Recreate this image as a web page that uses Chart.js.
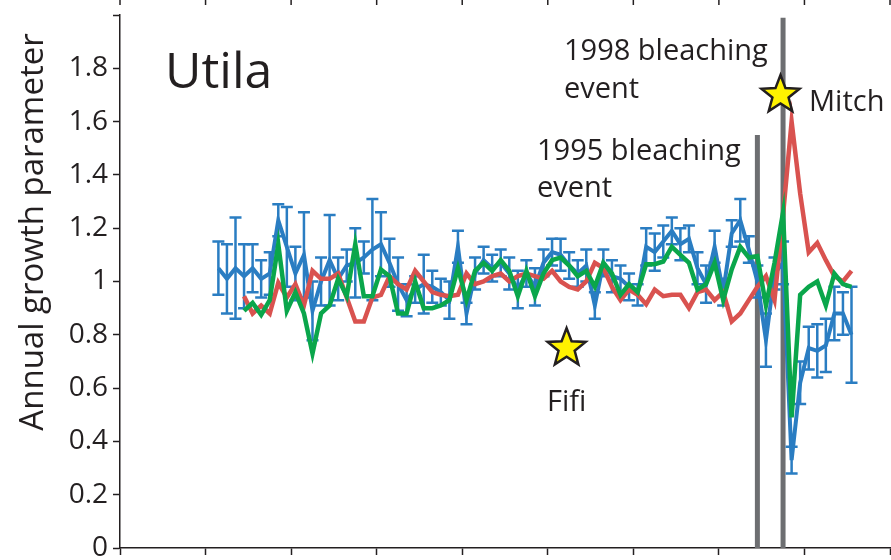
<!DOCTYPE html>
<html lang="en">
<head>
<meta charset="UTF-8">
<title>Utila annual growth</title>
<script src="https://cdn.jsdelivr.net/npm/chart.js"></script>
<style>
  html, body { margin: 0; padding: 0; background: #fff; }
</style>
</head>
<body>
<canvas id="growthChart" width="891" height="560"></canvas>
<script>
// ---- data ----
const blueFirstYear = 1932;
const lineFirstYear = 1935;

// blue series (with error bars), 1932-2006
const blueValues = [
  1.05, 1.01, 1.05, 1.02, 1.05, 1.01, 1.03, 1.23, 1.13, 1.03,
  1.10, 0.89, 1.00, 1.08, 1.01, 1.06, 1.07, 1.09, 1.12, 1.14,
  1.07, 0.99, 0.93, 0.97, 0.99, 0.98, 0.96, 0.93, 1.13, 0.88,
  1.03, 1.08, 1.05, 1.07, 1.03, 0.97, 1.03, 0.98, 1.07, 1.11,
  1.10, 1.06, 1.03, 1.06, 0.91, 1.07, 1.02, 1.01, 0.98, 0.95,
  1.13, 1.11, 1.15, 1.19, 1.14, 1.16, 1.05, 0.99, 1.13, 0.96,
  1.18, 1.23, 1.12, 1.00, 0.78, 1.03, 1.07, 0.33, 0.62, 0.75,
  0.74, 0.76, 0.88, 0.88, 0.80
];
const blueErrors = [
  0.10, 0.13, 0.19, 0.12, 0.09, 0.07, 0.08, 0.06, 0.15, 0.10,
  0.16, 0.11, 0.09, 0.17, 0.08, 0.06, 0.13, 0.06, 0.19, 0.12,
  0.09, 0.10, 0.06, 0.05, 0.11, 0.06, 0.05, 0.07, 0.06, 0.04,
  0.06, 0.05, 0.05, 0.05, 0.06, 0.07, 0.05, 0.07, 0.05, 0.05,
  0.06, 0.05, 0.05, 0.06, 0.05, 0.05, 0.06, 0.05, 0.05, 0.04,
  0.07, 0.07, 0.06, 0.05, 0.06, 0.05, 0.06, 0.07, 0.06, 0.05,
  0.05, 0.08, 0.05, 0.06, 0.10, 0.06, 0.08, 0.05, 0.08, 0.08,
  0.10, 0.10, 0.10, 0.08, 0.18
];
// green series, 1935-2006
const greenValues = [
  0.89, 0.92, 0.875, 0.93, 1.14, 0.89, 0.96, 0.88, 0.73, 0.88,
  0.91, 1.01, 0.945, 1.14, 0.945, 0.945, 1.045, 1.02, 0.88, 0.88,
  1.00, 0.90, 0.90, 0.91, 0.93, 1.05, 0.93, 1.04, 1.07, 1.04,
  1.08, 1.04, 0.945, 1.04, 0.945, 1.03, 1.08, 1.09, 1.06, 1.02,
  1.04, 0.98, 1.07, 1.03, 0.95, 0.99, 0.96, 1.065, 1.065, 1.075,
  1.13, 1.10, 1.07, 0.97, 0.99, 1.07, 0.93, 1.045, 1.13, 1.09,
  1.095, 0.91, 1.07, 1.26, 0.49, 0.95, 0.98, 1.00, 0.91, 1.03,
  0.99, 0.98
];
// red series, 1935-2006
const redValues = [
  0.945, 0.88, 0.91, 0.88, 0.995, 0.94, 0.99, 0.91, 1.04, 1.01,
  1.01, 1.03, 0.94, 0.85, 0.85, 0.94, 0.95, 1.02, 0.99, 0.97,
  1.04, 1.00, 0.96, 0.95, 0.945, 0.95, 1.03, 0.99, 1.00, 1.02,
  1.03, 1.00, 1.02, 1.03, 1.02, 1.01, 1.04, 1.00, 0.98, 0.97,
  1.00, 1.07, 1.05, 0.98, 0.93, 0.97, 0.95, 0.915, 0.97, 0.945,
  0.95, 0.95, 0.90, 0.96, 0.97, 0.93, 0.96, 0.85, 0.88, 0.93,
  0.98, 1.02, 0.93, 1.25, 1.60, 1.33, 1.11, 1.145, 1.08, 1.02,
  1.00, 1.04
];

const xTicks = [1920.5, 1930.5, 1940.5, 1950.5, 1960.5, 1970.5, 1980.5, 1990.5, 2000.5, 2010.5];
const yTickLabels = ['0', '0.2', '0.4', '0.6', '0.8', '1', '1.2', '1.4', '1.6', '1.8', ''];

// bleaching events: year and how high the marker line reaches
const eventYears = [1995, 1998];
const eventTops = [1.55, 1.99];

// hurricanes: star position (year, value)
const stormNames = ['Fifi', 'Mitch'];
const stormX = [1972.7, 1997.7];
const stormY = [0.75, 1.70];

const blueColor = '#2a7dc2';
const greenColor = '#0aa64b';
const redColor = '#d9524f';
const greyColor = '#6d6e71';
const inkColor = '#231f20';
const fontFamily = '"Open Sans", "Noto Sans", sans-serif';

function seriesPoints(values, firstYear) {
  return values.map((v, i) => ({ x: firstYear + i, y: v }));
}

// error bars and bleaching lines go under the curves
const underlay = {
  id: 'underlay',
  beforeDatasetsDraw(chart) {
    const { ctx, scales: { x, y } } = chart;
    ctx.save();
    ctx.strokeStyle = greyColor;
    ctx.lineWidth = 5;
    eventYears.forEach((yr, i) => {
      const px = x.getPixelForValue(yr);
      ctx.beginPath();
      ctx.moveTo(px, y.getPixelForValue(0));
      ctx.lineTo(px, y.getPixelForValue(eventTops[i]));
      ctx.stroke();
    });

    ctx.strokeStyle = blueColor;
    ctx.lineWidth = 2.5;
    blueValues.forEach((v, i) => {
      const px = x.getPixelForValue(blueFirstYear + i);
      const top = y.getPixelForValue(v + blueErrors[i]);
      const bot = y.getPixelForValue(v - blueErrors[i]);
      ctx.beginPath();
      ctx.moveTo(px, top); ctx.lineTo(px, bot);
      ctx.moveTo(px - 6, top); ctx.lineTo(px + 6, top);
      ctx.moveTo(px - 6, bot); ctx.lineTo(px + 6, bot);
      ctx.stroke();
    });
    ctx.restore();
  }
};

function drawStar(ctx, cx, cy, outer, inner) {
  ctx.beginPath();
  for (let k = 0; k < 10; k++) {
    const r = k % 2 === 0 ? outer : inner;
    const a = -Math.PI / 2 + k * Math.PI / 5;
    const px = cx + r * Math.cos(a);
    const py = cy + r * Math.sin(a);
    if (k === 0) ctx.moveTo(px, py); else ctx.lineTo(px, py);
  }
  ctx.closePath();
  ctx.fillStyle = '#fff200';
  ctx.fill();
  ctx.lineWidth = 2.5;
  ctx.strokeStyle = inkColor;
  ctx.stroke();
}

// stars, labels and axis title
const overlay = {
  id: 'overlay',
  afterDraw(chart) {
    const { ctx, scales: { x, y } } = chart;
    ctx.save();

    // ticks of the panel above, cut off at the top edge
    ctx.strokeStyle = inkColor;
    ctx.lineWidth = 1.5;
    xTicks.forEach(t => {
      const px = x.getPixelForValue(t);
      ctx.beginPath();
      ctx.moveTo(px, 0); ctx.lineTo(px, 5);
      ctx.stroke();
    });

    stormX.forEach((sx, i) => {
      drawStar(ctx, x.getPixelForValue(sx), y.getPixelForValue(stormY[i]), 20, 8.5);
    });

    ctx.fillStyle = inkColor;
    ctx.textBaseline = 'alphabetic';
    ctx.textAlign = 'left';
    ctx.font = '50px ' + fontFamily;
    ctx.fillText('Utila', 165, 88);

    ctx.font = '29px ' + fontFamily;
    ctx.fillText('1998 bleaching', 564, 60);
    ctx.fillText('event', 564, 98);
    ctx.fillText('1995 bleaching', 537, 160);
    ctx.fillText('event', 537, 197);
    ctx.fillText(stormNames[1], 809, 111);
    ctx.fillText(stormNames[0], 547, 411);

    ctx.translate(43, 232);
    ctx.rotate(-Math.PI / 2);
    ctx.textAlign = 'center';
    ctx.font = '33px ' + fontFamily;
    ctx.fillText('Annual growth parameter', 0, 0);
    ctx.restore();
  }
};

const ctx = document.getElementById('growthChart').getContext('2d');
const growthChart = new Chart(ctx, {
  type: 'line',
  data: {
    datasets: [
      {
        label: 'green',
        data: seriesPoints(greenValues, lineFirstYear),
        borderColor: greenColor,
        borderWidth: 4.5,
        pointRadius: 0
      },
      {
        label: 'red',
        data: seriesPoints(redValues, lineFirstYear),
        borderColor: redColor,
        borderWidth: 4.5,
        pointRadius: 0
      },
      {
        label: 'blue',
        data: seriesPoints(blueValues, blueFirstYear),
        borderColor: blueColor,
        borderWidth: 4,
        pointRadius: 0
      }
    ]
  },
  options: {
    responsive: false,
    animation: false,
    devicePixelRatio: 1,
    layout: { padding: { top: 15, right: 1, left: 0, bottom: 0 } },
    elements: { line: { tension: 0 } },
    plugins: {
      legend: { display: false },
      tooltip: { enabled: false }
    },
    scales: {
      x: {
        type: 'linear',
        min: xTicks[0],
        max: xTicks[xTicks.length - 1],
        afterBuildTicks: scale => {
          scale.ticks = xTicks.map(v => ({ value: v }));
        },
        afterFit: scale => {
          scale.height = 12;
          scale.paddingLeft = 0;
          scale.paddingRight = 0;
        },
        ticks: { display: false },
        grid: {
          drawOnChartArea: false,
          tickLength: 7,
          tickColor: inkColor,
          tickWidth: 1.5
        },
        border: { color: inkColor, width: 1.5 }
      },
      y: {
        min: 0,
        max: 2,
        afterFit: scale => {
          scale.width = 120;
          scale.paddingTop = 0;
          scale.paddingBottom = 0;
        },
        ticks: {
          stepSize: 0.2,
          padding: 5,
          color: inkColor,
          font: { family: fontFamily, size: 28 },
          callback: (v, i) => yTickLabels[i]
        },
        grid: {
          drawOnChartArea: false,
          tickLength: 7,
          tickColor: inkColor,
          tickWidth: 1.5
        },
        border: { color: inkColor, width: 1.5 }
      }
    }
  },
  plugins: [underlay, overlay]
});
</script>
</body>
</html>
